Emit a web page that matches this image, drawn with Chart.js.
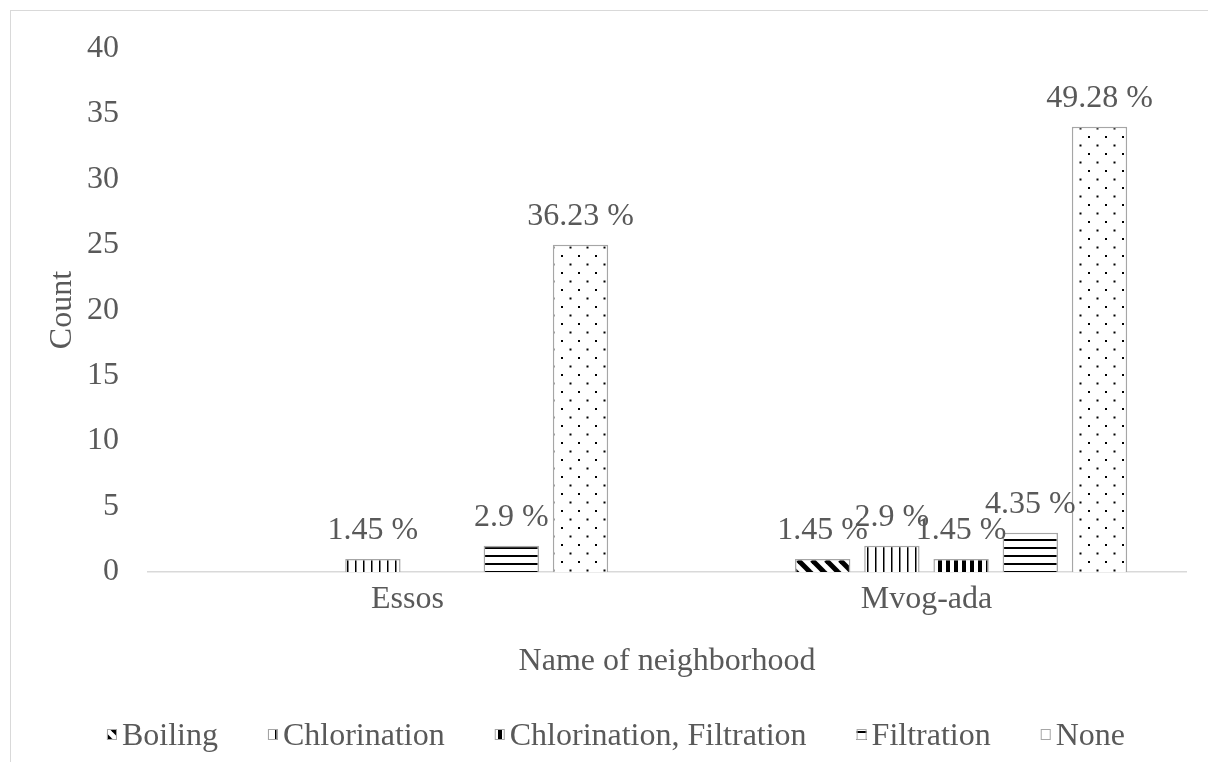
<!DOCTYPE html>
<html>
<head>
<meta charset="utf-8">
<script src="https://cdn.jsdelivr.net/npm/chart.js@4.4.0/dist/chart.umd.min.js"></script>
<style>
  html, body { margin: 0; padding: 0; background: #fff; overflow: hidden; }
  #frame { position: absolute; left: 10px; top: 10px; width: 1198px; height: 752px;
           border-left: 1px solid #d9d9d9; border-top: 1px solid #d9d9d9; }
  #wrap { position: absolute; left: 0; top: 0; width: 1208px; height: 762px; }
</style>
</head>
<body>
<div id="frame"></div>
<div id="wrap"><canvas id="chart"></canvas></div>
<script>
// Données
const neighborhoods = ['Essos', 'Mvog-ada'];
const seriesNames = ['Boiling', 'Chlorination', 'Chlorination, Filtration', 'Filtration', 'None'];
const boiling = [0, 1];
const chlorination = [1, 2];
const chlorFiltration = [0, 1];
const filtration = [2, 3];
const none = [25, 34];
const boilingPct = [0, 1.45];
const chlorinationPct = [1.45, 2.9];
const chlorFiltrationPct = [0, 1.45];
const filtrationPct = [2.9, 4.35];
const nonePct = [36.23, 49.28];
const yTicks = [0, 5, 10, 15, 20, 25, 30, 35, 40];

const textColor = '#595959';
const fontFamily = '"Liberation Serif", "Times New Roman", serif';
const fontSize = 32;

// Motifs (hachures) pour chaque série
function makePattern(w, h, draw) {
    const c = document.createElement('canvas');
    c.width = w;
    c.height = h;
    const g = c.getContext('2d');
    g.fillStyle = '#fff';
    g.fillRect(0, 0, w, h);
    g.fillStyle = '#000';
    g.strokeStyle = '#000';
    draw(g);
    return document.createElement('canvas').getContext('2d').createPattern(c, 'repeat');
}

const patBoiling = makePattern(14, 14, g => {
    g.lineWidth = 5;
    [-14, 0, 14].forEach(o => {
        g.beginPath();
        g.moveTo(o, 0);
        g.lineTo(o + 14, 14);
        g.stroke();
    });
});
const patChlor = makePattern(8, 8, g => g.fillRect(3, 0, 1.5, 8));
const patChlorFilt = makePattern(8, 8, g => g.fillRect(2, 0, 4, 8));
const patFilt = makePattern(8, 8, g => g.fillRect(0, 3, 8, 2));
const patNone = makePattern(17, 17, g => {
    g.fillRect(0, 0, 2, 2);
    g.fillRect(8.5, 8.5, 2, 2);
});

function series(label, data, pct, pattern) {
    return {
        label,
        data,
        pct,
        backgroundColor: pattern,
        borderColor: '#a6a6a6',
        borderWidth: c => (c.raw > 0 ? 1.5 : 0),
        categoryPercentage: 0.8,
        barPercentage: 0.8
    };
}

// Étiquettes de pourcentage au-dessus des barres
const barLabels = {
    id: 'barLabels',
    afterDatasetsDraw(chart) {
        const ctx = chart.ctx;
        ctx.save();
        ctx.font = fontSize + 'px ' + fontFamily;
        ctx.fillStyle = textColor;
        ctx.textAlign = 'center';
        ctx.textBaseline = 'alphabetic';
        chart.data.datasets.forEach((ds, i) => {
            if (!ds.pct) return;
            chart.getDatasetMeta(i).data.forEach((bar, j) => {
                if (!(ds.data[j] > 0)) return;
                ctx.fillText(ds.pct[j] + ' %', bar.x, bar.y - 20);
            });
        });
        ctx.restore();
    }
};

// Légende dessinée à la main (boîtes serrées comme dans Excel)
const excelLegend = {
    id: 'excelLegend',
    afterDraw(chart, args, opts) {
        const ctx = chart.ctx;
        const items = chart.data.datasets.filter(ds => ds.label);
        ctx.save();
        ctx.font = fontSize + 'px ' + fontFamily;
        ctx.textBaseline = 'alphabetic';
        ctx.textAlign = 'left';
        const widths = items.map(ds => opts.box + opts.gap + ctx.measureText(ds.label).width);
        const total = widths.reduce((a, b) => a + b, 0) + opts.spacing * (items.length - 1);
        let x = opts.centerX - total / 2;
        items.forEach((ds, i) => {
            ctx.fillStyle = ds.backgroundColor;
            ctx.fillRect(x, opts.baseline - 16, opts.box, opts.box + 1);
            ctx.strokeStyle = '#a6a6a6';
            ctx.lineWidth = 1;
            ctx.strokeRect(x + 0.5, opts.baseline - 15.5, opts.box - 1, opts.box);
            ctx.fillStyle = textColor;
            ctx.fillText(ds.label, x + opts.box + opts.gap, opts.baseline);
            x += widths[i] + opts.spacing;
        });
        ctx.restore();
    }
};

new Chart(document.getElementById('chart'), {
    type: 'bar',
    data: {
        labels: neighborhoods,
        datasets: [
            // série vide présente dans le graphique d'origine (pas de légende)
            { label: '', data: [null, null], categoryPercentage: 0.8, barPercentage: 0.8 },
            series(seriesNames[0], boiling, boilingPct, patBoiling),
            series(seriesNames[1], chlorination, chlorinationPct, patChlor),
            series(seriesNames[2], chlorFiltration, chlorFiltrationPct, patChlorFilt),
            series(seriesNames[3], filtration, filtrationPct, patFilt),
            series(seriesNames[4], none, nonePct, patNone)
        ]
    },
    plugins: [barLabels, excelLegend],
    options: {
        responsive: true,
        maintainAspectRatio: false,
        animation: false,
        layout: { padding: { top: 42, left: 0, right: 22, bottom: 77 } },
        plugins: {
            legend: { display: false },
            tooltip: { enabled: false },
            excelLegend: { centerX: 616, baseline: 745, box: 10, gap: 5, spacing: 50 }
        },
        scales: {
            y: {
                min: 0,
                max: 40,
                afterFit: s => { s.width = 148; },
                afterBuildTicks: s => { s.ticks = yTicks.map(v => ({ value: v })); },
                ticks: { padding: 29, color: textColor, font: { family: fontFamily, size: fontSize } },
                grid: { display: false, drawTicks: false },
                border: { display: false },
                title: {
                    display: true,
                    text: 'Count',
                    color: textColor,
                    padding: { top: 43, bottom: 0 },
                    font: { family: fontFamily, size: fontSize }
                }
            },
            x: {
                afterFit: s => { s.height = 113; },
                ticks: { padding: 8, color: textColor, font: { family: fontFamily, size: fontSize } },
                grid: { display: false, drawTicks: false },
                border: { display: true, color: '#d9d9d9', width: 1.5 },
                title: {
                    display: true,
                    text: 'Name of neighborhood',
                    color: textColor,
                    padding: { top: 24, bottom: 4 },
                    font: { family: fontFamily, size: fontSize }
                }
            }
        }
    }
});
</script>
</body>
</html>
